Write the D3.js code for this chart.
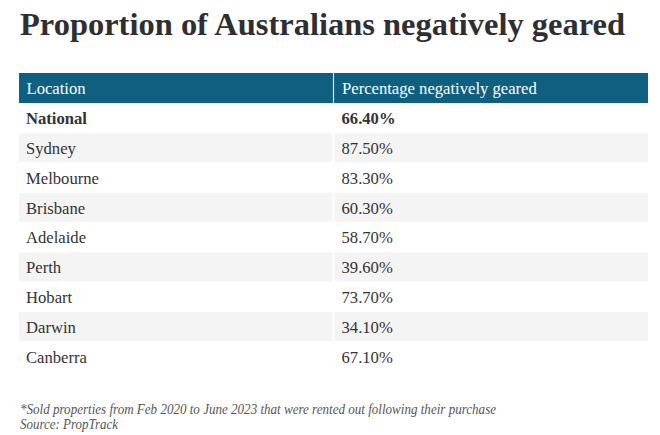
<!DOCTYPE html>
<html>
<head>
<meta charset="utf-8">
<script src="https://cdn.jsdelivr.net/npm/d3@7"></script>
<style>
html,body{margin:0;padding:0;background:#fff;}
svg{display:block;}
</style>
</head>
<body>
<svg id="chart" width="660" height="435"></svg>
<script>
const title = "Proportion of Australians negatively geared";
const headers = ["Location", "Percentage negatively geared"];
const locations = ["National", "Sydney", "Melbourne", "Brisbane", "Adelaide", "Perth", "Hobart", "Darwin", "Canberra"];
const percentages = [66.4, 87.5, 83.3, 60.3, 58.7, 39.6, 73.7, 34.1, 67.1];
const boldRows = ["National"];
const footnotes = [
  "*Sold properties from Feb 2020 to June 2023 that were rented out following their purchase",
  "Source: PropTrack"
];

const svg = d3.select("#chart");
const serif = "'Liberation Serif', 'Times New Roman', serif";
const fmt = d3.format(".2f");

function fit(sel, w) {
  sel.each(function () {
    const n = this.getComputedTextLength();
    if (n > 0) d3.select(this).attr("textLength", w).attr("lengthAdjust", "spacingAndGlyphs");
  });
}
function condense(sel, k) {
  sel.each(function () {
    const n = this.getComputedTextLength();
    if (n > 0) d3.select(this).attr("textLength", n * k).attr("lengthAdjust", "spacingAndGlyphs");
  });
}

// Title
svg.append("text")
  .attr("x", 20).attr("y", 35)
  .attr("font-family", serif).attr("font-weight", "bold").attr("font-size", 32)
  .attr("fill", "#2f2f33")
  .text(title)
  .call(fit, 605);

const left = 19, right = 648, divider = 333.5;
const headerTop = 73, headerH = 30, rowH = 29.8;

const col = d3.scaleOrdinal().domain([0, 1]).range([left, divider + 1]);
const colEnd = d3.scaleOrdinal().domain([0, 1]).range([divider - 1, right]);

const y = d3.scaleBand()
  .domain(locations)
  .range([headerTop + headerH, headerTop + headerH + rowH * locations.length])
  .paddingInner(0).paddingOuter(0);

const fs = 17.5, k = 0.95;

// Header
svg.append("rect").attr("x", left).attr("y", headerTop)
  .attr("width", right - left).attr("height", headerH).attr("fill", "#0f5f80");
svg.append("line").attr("x1", divider).attr("x2", divider)
  .attr("y1", headerTop).attr("y2", headerTop + headerH)
  .attr("stroke", "#d6e6ee").attr("stroke-width", 1.2);
svg.selectAll("text.hdr").data(headers).enter().append("text")
  .attr("class", "hdr")
  .attr("x", (d, i) => col(i) + 7.5)
  .attr("y", headerTop + 21)
  .attr("font-family", serif).attr("font-size", fs)
  .attr("fill", "#ffffff")
  .text(d => d)
  .call(condense, k);

// Rows
const rows = svg.selectAll("g.row").data(locations).enter().append("g")
  .attr("class", "row")
  .attr("transform", d => `translate(0,${y(d)})`);

rows.each(function (d, i) {
  const g = d3.select(this);
  if (i % 2 === 1) {
    [0, 1].forEach(c => {
      g.append("rect").attr("x", col(c)).attr("y", 0.5)
        .attr("width", colEnd(c) - col(c)).attr("height", y.bandwidth() - 1)
        .attr("fill", "#f4f4f4");
    });
  }
  const bold = boldRows.includes(d);
  g.append("text")
    .attr("x", col(0) + 7).attr("y", y.bandwidth() / 2 + 6.3)
    .attr("font-family", serif).attr("font-size", fs)
    .attr("font-weight", bold ? "bold" : "normal")
    .attr("fill", "#333")
    .text(d)
    .call(condense, k);
  g.append("text")
    .attr("x", col(1) + 7).attr("y", y.bandwidth() / 2 + 6.3)
    .attr("font-family", serif).attr("font-size", fs)
    .attr("font-weight", bold ? "bold" : "normal")
    .attr("fill", "#333")
    .text(fmt(percentages[i]) + "%")
    .call(condense, k);
});

// Footnotes
const footW = [476, 98];
svg.selectAll("text.foot").data(footnotes).enter().append("text")
  .attr("class", "foot")
  .attr("x", 20).attr("y", (d, i) => 414 + i * 14.5)
  .attr("font-family", serif).attr("font-style", "italic").attr("font-size", 14)
  .attr("fill", "#555")
  .text(d => d)
  .each(function (d, i) { d3.select(this).call(fit, footW[i]); });
</script>
</body>
</html>
